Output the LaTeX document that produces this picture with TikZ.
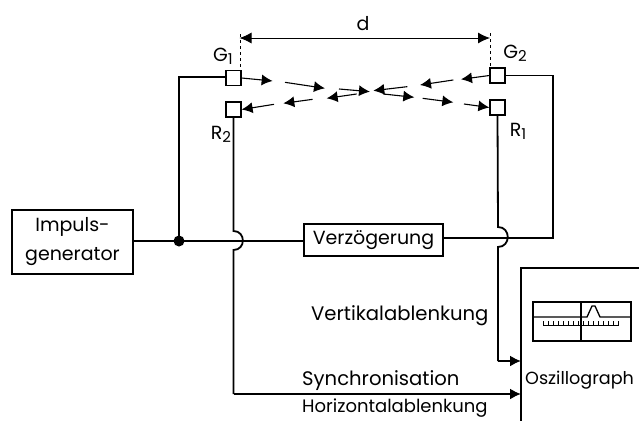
\documentclass[tikz,border=0pt]{standalone}
\usepackage{fontspec}
\setmainfont{Poppins}
\usetikzlibrary{arrows.meta}
\newcommand{\subidx}[1]{\raisebox{-3pt}{\fontsize{15}{15}\selectfont #1}}
\tikzset{
  box/.style={draw,line width=1.6pt,inner sep=0pt,align=center,font=\fontsize{19}{29}\selectfont},
  sq/.style={draw,line width=1.2pt,inner sep=0pt,minimum width=15pt,minimum height=15pt},
  wire/.style={line width=1.8pt},
  feed/.style={line width=1.8pt,-{Latex[length=11pt,width=11pt]}},
  wave/.style={line width=1.1pt,-{Latex[length=11pt,width=11pt]}},
  lab/.style={inner sep=0pt,font=\fontsize{19}{22}\selectfont}
}
\begin{document}
\begin{tikzpicture}[x=1pt,y=-1pt]
\useasboundingbox (0,0) rectangle (639,421);
% boxes
\node[box,minimum width=121pt,minimum height=64pt] (imp) at (72.5,242) {Impuls-\\generator};
\node[box,minimum width=139pt,minimum height=32pt] (vz) at (373.5,240) {Verzögerung};
\node[sq] (g1) at (233.5,78) {};
\node[sq] (r2) at (233.5,109.5) {};
\node[sq] (g2) at (497.5,75.5) {};
\node[sq] (r1) at (497.5,107.5) {};
% labels
\node[lab] (ld) at (363,24) {d};
\node[lab] (lg1) at (223,56) {G\subidx{1}};
\node[lab] (lg2) at (515,53) {G\subidx{2}};
\node[lab] (lr2) at (221,134) {R\subidx{2}};
\node[lab] (lr1) at (518,131) {R\subidx{1}};
\node[lab,anchor=west,font=\fontsize{19.6}{22}\selectfont] (lv) at (311,316) {Vertikalablenkung};
\node[lab,anchor=west,font=\fontsize{19.6}{22}\selectfont] (ls) at (302,381) {Synchronisation};
\node[lab,anchor=west,font=\fontsize{18}{22}\selectfont] (lh) at (302,408) {Horizontalablenkung};
\node[lab,anchor=west,font=\fontsize{17.6}{22}\selectfont] (lo) at (525,380) {Oszillograph};
% oscillograph frame
\coordinate (oa) at (639,268);
\coordinate (ob) at (521,268);
\coordinate (oc) at (521,421);
\draw[line width=1.6pt] (oa) -- (ob) -- (oc);
\coordinate (ov) at (521,361);
\coordinate (os) at (521,394);
% screen
\draw[line width=1.1pt] (533,302) rectangle (631,341);
\draw[line width=1.1pt] (581,302) -- (581,341);
\draw[line width=1.3pt] (533,317) -- (587,317) -- (592,306) -- (595,306) -- (600,317) -- (631,317);
\draw[line width=.9pt] (543,321) -- (543,325) -- (618,325) -- (618,321);
\foreach \i in {0,...,15}{\draw[line width=.8pt] ({543+5*\i},325) -- ({543+5*\i},321);}
% junction and main line
\coordinate (jn) at (179,241);
\fill (jn) circle (5.5pt);
\draw[line width=1.2pt] (imp.east |- jn) -- (jn);
\draw[wire] (jn) -- (vz.west |- jn);
\coordinate (jt) at (179,77);
\draw[wire] (jn) -- (jt) -- (g1.west |- jt);
% right loop
\coordinate (rt) at (553,75.5);
\coordinate (rb) at (553,238);
\draw[wire] (g2.east) -- (rt) -- (rb) -- (vz.east |- rb);
% R2 line with hop
\coordinate (h1a) at (233.5,231);
\coordinate (h1b) at (233.5,250);
\coordinate (cs) at (233.5,394);
\draw[wire] (r2.south) -- (h1a) .. controls (246,231) and (246,250) .. (h1b) -- (cs);
\draw[feed] (cs) -- (os);
% R1 line with hop
\coordinate (h2a) at (498,227);
\coordinate (h2b) at (498,247);
\coordinate (cv) at (498,361);
\draw[wire] (r1.south) -- (h2a) .. controls (511,227) and (511,247) .. (h2b) -- (cv);
\draw[feed] (cv) -- (ov);
% distance
\coordinate (da) at (239.5,38);
\coordinate (db) at (490,38);
\draw[line width=.9pt,{Latex[length=12pt,width=11pt]}-{Latex[length=12pt,width=11pt]}] (da) -- (db);
\draw[line width=.8pt,dashed] (240,34) -- (240,71);
\draw[line width=.8pt,dashed] (490,33) -- (490,68);
% waves
\begin{scope}[x=0.3333pt,y=-0.3333pt,shift={(170pt,0pt)}]
\draw[wave] (g1.east) -- (308,243);
\draw[wave] (345,247) -- (465,265);
\draw[wave] (507,267) -- (600,275);
\draw[wave] (712,260) -- (610,272);
\draw[wave] (850,240) -- (750,255);
\draw[wave] (g2.west) -- (873,238);
\draw[wave] (312,313) -- (r2.east);
\draw[wave] (428,298) -- (340,310);
\draw[wave] (560,282) -- (470,295);
\draw[wave] (640,282) -- (733,292);
\draw[wave] (758,295) -- (850,307);
\draw[wave] (882,312) -- (r1.west);
\end{scope}
\end{tikzpicture}
\end{document}
